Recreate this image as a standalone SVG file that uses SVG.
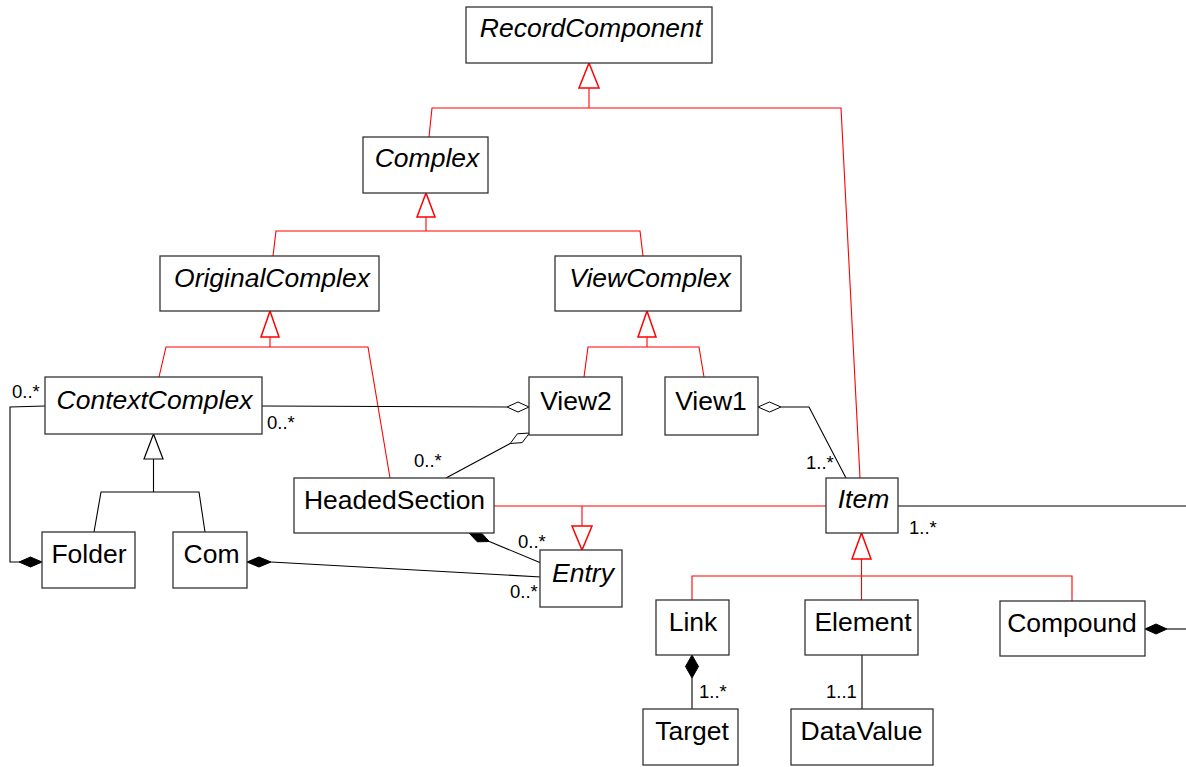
<svg xmlns="http://www.w3.org/2000/svg" width="1186" height="767" viewBox="0 0 1186 767">
<style>
.box{fill:#fff;stroke:#333;stroke-width:1.3}
.nm{font-family:"Liberation Sans",Arial,sans-serif;font-size:26.5px;fill:#000;text-anchor:middle}
.it{font-style:italic}
.ml{font-family:"Liberation Sans",Arial,sans-serif;font-size:18.5px;fill:#000}
.red{fill:none;stroke:#f00;stroke-width:1.1}
.redt{fill:#fff;stroke:#f00;stroke-width:1.5}
.blk{fill:none;stroke:#000;stroke-width:1.1}
.blkt{fill:#fff;stroke:#000;stroke-width:1.2}
.hd{fill:#fff;stroke:#000;stroke-width:1}
.fd{fill:#000;stroke:#000;stroke-width:1}
</style>
<rect width="1186" height="767" fill="#fff"/>
<g id="connectors">
<polyline class="red" points="429,137 432,108 841,108 860,478"/>
<line class="red" x1="589" y1="88" x2="589" y2="108" stroke-width="2"/>
<polygon class="redt" points="589,63 579,88 599,88"/>
<polyline class="red" points="273,256 276,231 640,231 643,256"/>
<line class="red" x1="426" y1="217" x2="426" y2="231" stroke-width="2"/>
<polygon class="redt" points="426,193 417,217 435,217"/>
<polyline class="red" points="159,377 166,347 368,347 390,478"/>
<line class="red" x1="270" y1="337" x2="270" y2="347" stroke-width="2"/>
<polygon class="redt" points="270,311 261,337 279,337"/>
<polyline class="red" points="584,377 588,347 699,347 704,377"/>
<line class="red" x1="647" y1="337" x2="647" y2="347" stroke-width="2"/>
<polygon class="redt" points="647,311 638,337 656,337"/>
<polyline class="blk" points="94,532 101,492 199,492 205,532"/>
<line class="blk" x1="153.5" y1="459" x2="153.5" y2="492"/>
<polygon class="blkt" points="153.5,434 144,459 163,459"/>
<line class="red" x1="494" y1="506" x2="826" y2="506"/>
<line class="red" x1="582" y1="506" x2="582" y2="526" stroke-width="2"/>
<polygon class="redt" points="582,550 572,526 592,526"/>
<polyline class="red" points="692,600 692,576 1072,576 1072,601"/>
<line class="red" x1="861.5" y1="559" x2="861.5" y2="600" stroke-width="1.6"/>
<polygon class="redt" points="861.5,533 852,559 871,559"/>
<line class="blk" x1="262" y1="406" x2="507" y2="407"/>
<polygon class="hd" points="507,407 518,402 529,407 518,412"/>
<line class="blk" x1="446" y1="478" x2="510.2" y2="443.5"/>
<polygon class="hd" points="529.5,433 522.2,442.6 510.2,443.5 517.4,433.8"/>
<polyline class="blk" points="781,407 809,407 846,478"/>
<polygon class="hd" points="758,407 769.5,402 781,407 769.5,412"/>
<polyline class="blk" points="45,406 10,407 10,562 19,562"/>
<polygon class="fd" points="19,562 30.5,557 42,562 30.5,567"/>
<line class="blk" x1="271" y1="562" x2="541" y2="577"/>
<polygon class="fd" points="247,562 259,557 271,562 259,567"/>
<line class="blk" x1="489.3" y1="541.5" x2="541" y2="563"/>
<polygon class="fd" points="469,533 481.1,532.6 489.3,541.5 477.3,541.8"/>
<line class="blk" x1="898" y1="506" x2="1186" y2="506"/>
<line class="blk" x1="1167" y1="629" x2="1186" y2="629"/>
<polygon class="fd" points="1145,629 1156,624 1167,629 1156,634"/>
<line class="blk" x1="692" y1="678" x2="692" y2="709"/>
<polygon class="fd" points="692,655 698.5,666.5 692,678 685.5,666.5"/>
<line class="blk" x1="862" y1="655" x2="862" y2="709"/>
<text class="ml" x="12" y="398">0..*</text>
<text class="ml" x="267" y="429">0..*</text>
<text class="ml" x="414" y="467">0..*</text>
<text class="ml" x="806" y="469">1..*</text>
<text class="ml" x="909" y="534">1..*</text>
<text class="ml" x="518" y="548">0..*</text>
<text class="ml" x="510" y="598">0..*</text>
<text class="ml" x="699" y="698">1..*</text>
<text class="ml" x="826" y="698">1..1</text>
</g>
<g id="RecordComponent"><rect class="box" x="466" y="7" width="246" height="56"/><text class="nm it" x="591" y="37">RecordComponent</text></g>
<g id="Complex"><rect class="box" x="363" y="137" width="125" height="56"/><text class="nm it" x="427" y="167">Complex</text></g>
<g id="OriginalComplex"><rect class="box" x="160" y="256" width="219" height="55"/><text class="nm it" x="272" y="287">OriginalComplex</text></g>
<g id="ViewComplex"><rect class="box" x="555" y="256" width="186" height="55"/><text class="nm it" x="650" y="287">ViewComplex</text></g>
<g id="ContextComplex"><rect class="box" x="45" y="377" width="217" height="57"/><text class="nm it" x="154.5" y="409">ContextComplex</text></g>
<g id="View2"><rect class="box" x="529" y="377" width="93" height="58"/><text class="nm" x="576" y="410">View2</text></g>
<g id="View1"><rect class="box" x="665" y="377" width="93" height="58"/><text class="nm" x="711" y="410">View1</text></g>
<g id="HeadedSection"><rect class="box" x="294" y="478" width="200" height="55"/><text class="nm" x="394.5" y="509">HeadedSection</text></g>
<g id="Item"><rect class="box" x="826" y="478" width="72" height="55"/><text class="nm it" x="863.5" y="508">Item</text></g>
<g id="Folder"><rect class="box" x="42" y="532" width="93" height="56"/><text class="nm" x="89" y="563">Folder</text></g>
<g id="Com"><rect class="box" x="173" y="532" width="74" height="56"/><text class="nm" x="211.5" y="563">Com</text></g>
<g id="Entry"><rect class="box" x="540" y="550" width="82" height="57"/><text class="nm it" x="583" y="582">Entry</text></g>
<g id="Link"><rect class="box" x="656" y="600" width="73" height="55"/><text class="nm" x="693" y="631">Link</text></g>
<g id="Element"><rect class="box" x="805" y="600" width="113" height="55"/><text class="nm" x="863" y="631">Element</text></g>
<g id="Compound"><rect class="box" x="1000" y="601" width="145" height="55"/><text class="nm" x="1072" y="632">Compound</text></g>
<g id="Target"><rect class="box" x="643" y="709" width="95" height="56"/><text class="nm" x="692" y="740">Target</text></g>
<g id="DataValue"><rect class="box" x="791" y="709" width="142" height="56"/><text class="nm" x="861.5" y="740">DataValue</text></g>
</svg>
